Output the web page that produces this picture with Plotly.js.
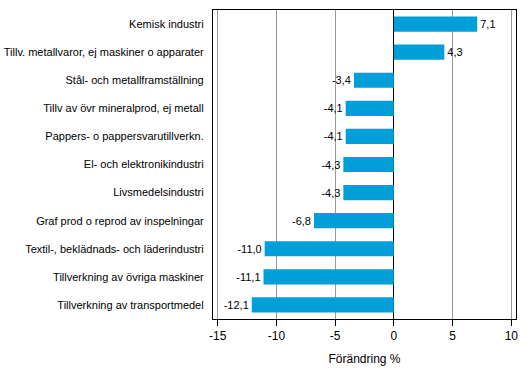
<!DOCTYPE html>
<html><head><meta charset="utf-8">
<script src="https://cdn.plot.ly/plotly-3.0.1.min.js"></script>
<style>html,body{margin:0;padding:0;background:#fff}</style>
</head><body>
<div id="chart" style="width:529px;height:378px"></div>
<script>
const categories = [
  "Kemisk industri",
  "Tillv. metallvaror, ej maskiner o apparater",
  "Stål- och metallframställning",
  "Tillv av övr mineralprod, ej metall",
  "Pappers- o pappersvarutillverkn.",
  "El- och elektronikindustri",
  "Livsmedelsindustri",
  "Graf prod o reprod av inspelningar",
  "Textil-, beklädnads- och läderindustri",
  "Tillverkning av övriga maskiner",
  "Tillverkning av transportmedel"
];
const values = [7.1, 4.3, -3.4, -4.1, -4.1, -4.3, -4.3, -6.8, -11.0, -11.1, -12.1];
const xTicks = [-15, -10, -5, 0, 5, 10];
const axisTitle = "Förändring %";

const trace = {
  type: 'bar',
  orientation: 'h',
  y: categories,
  x: values,
  marker: {color: '#009FDA'},
  text: values.map(v => v.toFixed(1).replace('.', ',')),
  textposition: 'outside',
  textfont: {family: 'Liberation Sans, Arial, sans-serif', size: 11, color: '#000'},
  cliponaxis: false,
  hoverinfo: 'none'
};

const layout = {
  width: 529, height: 378,
  margin: {l: 213, r: 13, t: 10, b: 59},
  paper_bgcolor: '#fff', plot_bgcolor: '#fff',
  font: {family: 'Liberation Sans, Arial, sans-serif', size: 11, color: '#000'},
  bargap: 0.46,
  showlegend: false,
  separators: ',.',
  xaxis: {
    range: [-15.4, 10.4],
    tickvals: xTicks,
    ticktext: xTicks.map(String),
    ticks: 'outside', ticklen: 6, tickcolor: '#000',
    showgrid: true, gridcolor: '#999', gridwidth: 1,
    zeroline: true, zerolinecolor: '#000', zerolinewidth: 1,
    showline: true, linecolor: '#000', linewidth: 1, mirror: true,
    tickfont: {size: 12},
    title: {text: axisTitle, font: {size: 12}, standoff: 12}
  },
  yaxis: {
    autorange: 'reversed',
    showline: true, linecolor: '#000', linewidth: 1, mirror: true,
    ticks: '', showgrid: false,
    ticksuffix: '  ',
    tickfont: {size: 11}
  }
};

Plotly.newPlot('chart', [trace], layout, {staticPlot: true, displayModeBar: false});
</script>
</body></html>
